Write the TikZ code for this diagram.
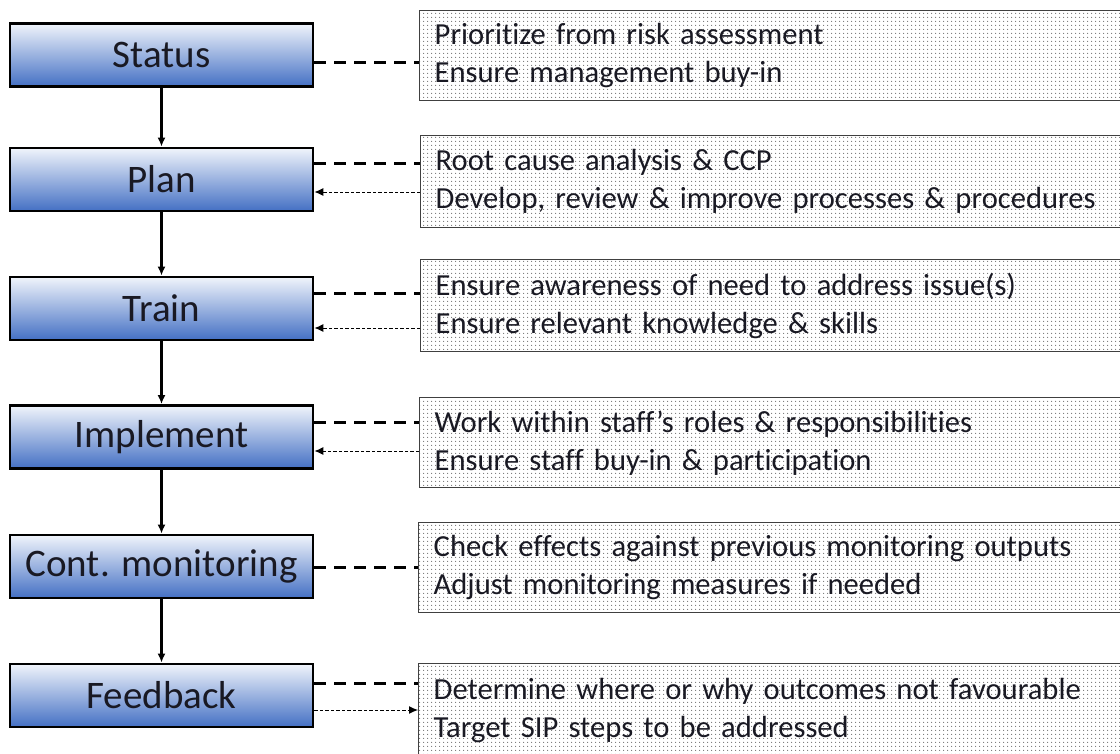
\documentclass[tikz,border=0pt]{standalone}
\usepackage{fontspec}
\setmainfont[Ligatures=NoCommon]{Carlito}
\usetikzlibrary{arrows.meta,patterns.meta}
\definecolor{steptop}{RGB}{240,244,251}
\definecolor{stepbot}{RGB}{68,112,196}
\definecolor{inktext}{RGB}{25,25,35}
\begin{document}
\begin{tikzpicture}[x=1pt,y=-1pt,
  stepbox/.style={draw=black, line width=2.8pt, top color=steptop, bottom color=stepbot,
    minimum width=303pt, minimum height=63pt, inner sep=0pt,
    font=\fontsize{39}{44}\selectfont, text=inktext},
  notebox/.style={draw=black!75, line width=1.4pt,
    pattern={Dots[distance=4pt,radius=0.7pt]}, pattern color=black!55,
    anchor=north west, minimum width=711pt, text width=681pt, align=left,
    inner xsep=15pt, inner ysep=0pt,
    font=\fontsize{30.6}{38}\selectfont, text=inktext},
  flow/.style={line width=2.2pt, -{Latex[length=9pt,width=8pt]}},
  link/.style={line width=3pt, dash pattern=on 12pt off 8pt},
  feed/.style={line width=1pt, dash pattern=on 3.5pt off 2pt, -{Latex[length=9pt,width=8pt]}}]
\useasboundingbox (0,0) rectangle (1120,753);

% process steps
\node[stepbox] (s1) at (161.5,55)    {Status};
\node[stepbox] (s2) at (161.5,179.5) {Plan};
\node[stepbox] (s3) at (161.5,308.5) {Train};
\node[stepbox] (s4) at (161.5,437)   {Implement};
\node[stepbox] (s5) at (161.5,566.5) {Cont. monitoring};
\node[stepbox] (s6) at (161.5,695.5) {Feedback};

% notes for each step
\node[notebox, minimum height=90pt] (r1) at (419,10)
  {Prioritize from risk assessment\\Ensure management buy-in};
\node[notebox, minimum height=92pt] (r2) at (420,135)
  {Root cause analysis \& CCP\\Develop, review \& improve processes \& procedures};
\node[notebox, minimum height=92pt] (r3) at (420,259)
  {Ensure awareness of need to address issue(s)\\Ensure relevant knowledge \& skills};
\node[notebox, minimum height=90pt] (r4) at (419,397)
  {Work within staff’s roles \& responsibilities\\Ensure staff buy-in \& participation};
\node[notebox, minimum height=90pt] (r5) at (418,522)
  {Check effects against previous monitoring outputs\\Adjust monitoring measures if needed};
\node[notebox, minimum height=93pt] (r6) at (418,663)
  {Determine where or why outcomes not favourable\\Target SIP steps to be addressed};

% main flow
\draw[flow] (s1) -- (s2);
\draw[flow] (s2) -- (s3);
\draw[flow] (s3) -- (s4);
\draw[flow] (s4) -- (s5);
\draw[flow] (s5) -- (s6);

% links to notes
\draw[link] (s1.east |- 0,62)  -- (r1.west |- 0,62);
\draw[link] (s2.east |- 0,163) -- (r2.west |- 0,163);
\draw[link] (s3.east |- 0,293) -- (r3.west |- 0,293);
\draw[link] (s4.east |- 0,422) -- (r4.west |- 0,422);
\draw[link] (s5.east |- 0,567) -- (r5.west |- 0,567);
\draw[link] (s6.east |- 0,683) -- (r6.west |- 0,683);

% feedback arrows
\draw[feed] (r2.west |- 0,192) -- (s2.east |- 0,192);
\draw[feed] (r3.west |- 0,328) -- (s3.east |- 0,328);
\draw[feed] (r4.west |- 0,451) -- (s4.east |- 0,451);
\draw[feed] (s6.east |- 0,710) -- (r6.west |- 0,710);
\end{tikzpicture}
\end{document}
